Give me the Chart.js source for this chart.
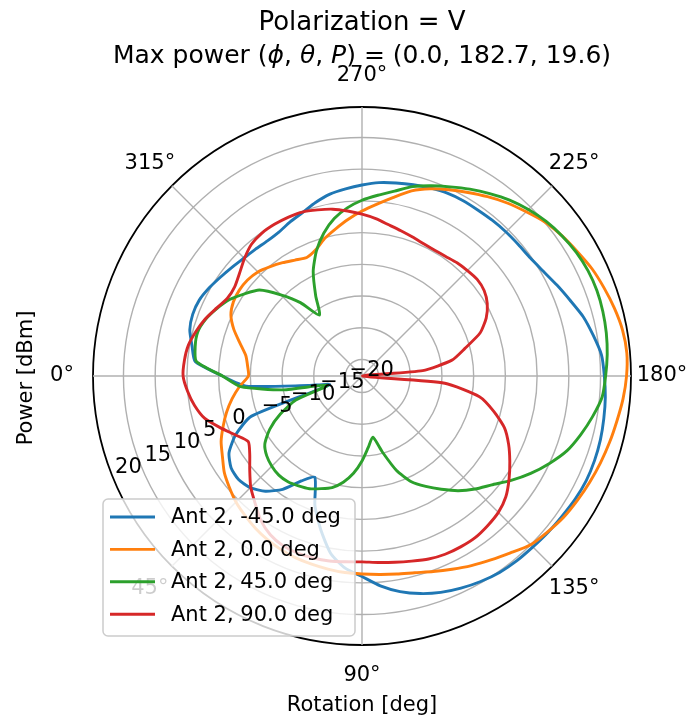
<!DOCTYPE html>
<html>
<head>
<meta charset="utf-8">
<script src="https://cdn.jsdelivr.net/npm/chart.js@4.4.0/dist/chart.umd.min.js"></script>
<style>
  html, body { margin: 0; padding: 0; background: #fff; }
</style>
</head>
<body>
<canvas id="polarPlot" width="690" height="724"></canvas>
<script>
// rotation angle of each sample (deg)
var angles = [0,5,10,15,20,25,30,35,40,45,50,55,60,65,70,75,80,85,90,95,100,105,110,115,
  120,125,130,135,140,145,150,155,160,165,170,175,180,185,190,195,200,205,210,215,220,225,230,235,
  240,245,250,255,260,265,270,275,280,285,290,295,300,305,310,315,320,325,330,335,340,345,350,355];

// power in dBm, one value per angle above
var antM45 = [4.4,0.7,-9.0,-12.3,1.0,4.4,6.6,7.6,7.8,7.3,6.1,4.2,1.5,0.0,4.1,7.5,10.8,12.8,14.0,15.6,16.9,17.9,18.7,19.3,
  19.8,20.2,20.4,20.5,20.7,20.9,21.2,21.4,21.4,21.3,21.1,20.9,20.6,20.3,19.4,18.5,17.3,16.3,15.4,14.8,14.6,14.5,14.4,14.3,
  14.3,14.2,13.9,13.6,13.3,13.0,12.5,12.0,11.5,10.7,9.8,9.2,8.6,8.4,8.5,8.7,9.1,9.6,10.2,10.7,10.8,10.5,9.6,8.8];
var ant0 = [0.3,1.8,3.2,4.5,5.7,6.9,7.8,8.9,9.7,10.5,11.1,11.7,12.2,12.6,12.9,13.1,13.3,13.5,13.6,13.8,14.1,14.5,15.2,16.0,
  16.9,17.8,18.8,20.0,20.6,21.2,21.6,22.0,22.4,22.8,23.2,23.7,24.1,24.3,24.1,23.6,23.0,22.4,21.6,20.9,20.1,19.0,18.0,16.9,
  15.8,14.8,13.8,12.6,11.0,9.6,8.4,7.2,6.0,4.9,3.6,3.0,3.5,4.2,4.9,5.6,5.95,6.0,5.8,5.2,3.9,2.3,1.0,0.5];
var ant45 = [4.4,1.6,-5.0,-12.0,-6.5,-3.4,-0.8,1.1,2.0,2.5,2.8,2.75,2.4,2.0,1.3,0.6,-0.6,-2.2,-4.2,-6.3,-7.8,-5.2,-1.8,0.8,
  2.5,4.2,6.0,7.6,9.1,11.1,13.1,15.0,16.8,18.1,19.3,20.4,20.8,21.2,21.5,21.7,21.8,21.7,21.4,20.9,20.3,19.5,18.6,17.5,
  16.4,15.3,14.3,13.3,12.0,11.0,10.1,9.0,7.6,5.7,3.4,0.6,-3.0,-5.9,-2.5,0.5,3.5,5.0,6.5,7.6,8.6,9.2,9.1,8.6];
var ant90 = [10.6,10.0,9.2,8.1,6.2,4.4,3.1,4.0,5.5,7.2,8.6,10.2,11.3,11.9,12.1,12.1,12.0,11.8,11.7,11.9,12.2,12.6,13.1,13.4,
  13.5,13.5,13.2,12.8,12.0,10.7,9.3,7.9,6.3,3.9,1.2,-4.5,-17.5,-8.0,-3.2,-0.8,2.2,4.0,5.2,5.9,6.1,5.9,5.7,5.4,
  5.3,5.4,5.7,6.1,6.6,7.3,7.9,8.5,9.1,9.5,9.9,10.0,10.0,9.9,9.5,8.6,7.6,6.9,6.9,7.7,8.7,9.5,10.2,10.5];

var seriesNames = ['Ant 2, -45.0 deg', 'Ant 2, 0.0 deg', 'Ant 2, 45.0 deg', 'Ant 2, 90.0 deg'];
var seriesColors = ['#1f77b4', '#ff7f0e', '#2ca02c', '#d62728'];
var thetaTicks = [0, 45, 90, 135, 180, 225, 270, 315];
var radialTicks = [-20, -15, -10, -5, 0, 5, 10, 15, 20];
var rMin = -17.6;
var rMax = 24.8;

var fontName = '"DejaVu Sans", sans-serif';

// chart.js goes clockwise from startAngle, the plot goes the other way round
var order = angles.map(function(a, i) { return (angles.length - i) % angles.length; });
function reorder(arr) { return order.map(function(k) { return arr[k]; }); }

var allSeries = [antM45, ant0, ant45, ant90];
var datasets = allSeries.map(function(s, i) {
  return {
    label: seriesNames[i],
    data: reorder(s),
    borderColor: seriesColors[i],
    backgroundColor: seriesColors[i],
    borderWidth: 2.9,
    pointRadius: 0,
    pointHitRadius: 0,
    fill: false,
    tension: 0.2,
    order: 4 - i
  };
});

function drawSegments(ctx, segs, cx, y, size) {
  var total = 0;
  segs.forEach(function(s) {
    ctx.font = (s.it ? 'italic ' : '') + size + 'px ' + fontName;
    s.w = ctx.measureText(s.t).width;
    total += s.w;
  });
  var x = cx - total / 2;
  ctx.textAlign = 'left';
  segs.forEach(function(s) {
    ctx.font = (s.it ? 'italic ' : '') + size + 'px ' + fontName;
    ctx.fillText(s.t, x, y);
    x += s.w;
  });
}

var polarText = {
  id: 'polarText',
  afterDraw: function(chart) {
    var ctx = chart.ctx;
    var sc = chart.scales.r;
    ctx.save();
    ctx.fillStyle = '#000';
    ctx.textBaseline = 'middle';

    // angle labels
    ctx.font = '21px ' + fontName;
    ctx.textAlign = 'center';
    chart.data.labels.forEach(function(lab, i) {
      if (thetaTicks.indexOf(lab) < 0) return;
      var p = sc.getPointPosition(i, sc.drawingArea + 31);
      ctx.fillText(lab + '\u00b0', p.x, p.y);
    });

    // radial labels at 22.5 deg, left aligned like matplotlib
    var a = 22.5 * Math.PI / 180;
    ctx.textAlign = 'left';
    radialTicks.forEach(function(v) {
      var d = sc.getDistanceFromCenterForValue(v);
      var txt = v < 0 ? '\u2212' + Math.abs(v) : String(v);
      ctx.fillText(txt, sc.xCenter - d * Math.cos(a) - 26.5, sc.yCenter + d * Math.sin(a));
    });

    // axis titles
    ctx.textAlign = 'center';
    ctx.fillText('Rotation [deg]', 362, 706);
    ctx.save();
    ctx.translate(27, 378);
    ctx.rotate(-Math.PI / 2);
    ctx.fillText('Power [dBm]', 0, 0);
    ctx.restore();

    // title
    ctx.font = '26px ' + fontName;
    ctx.fillText('Polarization = V', 362, 23);
    drawSegments(ctx, [
      {t: 'Max power ('}, {t: '\u03d5', it: true}, {t: ', '}, {t: '\u03b8', it: true},
      {t: ', '}, {t: 'P', it: true}, {t: ') = (0.0, 182.7, 19.6)'}
    ], 362, 56, 25);

    // legend
    var lx = 103, ly = 499, lw = 252, lh = 137;
    ctx.beginPath();
    ctx.roundRect(lx, ly, lw, lh, 5);
    ctx.fillStyle = 'rgba(255,255,255,0.8)';
    ctx.fill();
    ctx.strokeStyle = '#cccccc';
    ctx.lineWidth = 1.5;
    ctx.stroke();
    ctx.font = '21px ' + fontName;
    ctx.textAlign = 'left';
    chart.data.datasets.forEach(function(ds, i) {
      var y = 517 + i * 32.4;
      ctx.beginPath();
      ctx.moveTo(110, y);
      ctx.lineTo(155, y);
      ctx.strokeStyle = ds.borderColor;
      ctx.lineWidth = 2.9;
      ctx.stroke();
      ctx.fillStyle = '#000';
      ctx.fillText(ds.label, 171, y + 1);
    });
    ctx.restore();
  }
};

var ctx = document.getElementById('polarPlot').getContext('2d');
var myChart = new Chart(ctx, {
  type: 'radar',
  data: {
    labels: reorder(angles),
    datasets: datasets
  },
  options: {
    responsive: false,
    devicePixelRatio: 1,
    animation: false,
    layout: { padding: { left: 93, right: 59, top: 107, bottom: 79 } },
    plugins: {
      legend: { display: false },
      title: { display: false },
      tooltip: { enabled: false }
    },
    scales: {
      r: {
        min: rMin,
        max: rMax,
        startAngle: 270,
        ticks: { display: false, stepSize: 5 },
        pointLabels: { display: false },
        grid: {
          circular: true,
          color: function(c) {
            if (c.tick.value === rMax) return '#000';
            if (c.tick.value === rMin) return 'rgba(0,0,0,0)';
            return '#b0b0b0';
          },
          lineWidth: function(c) { return c.tick.value === rMax ? 1.8 : 1.4; }
        },
        angleLines: {
          color: function(c) {
            return thetaTicks.indexOf(c.label) >= 0 ? '#b0b0b0' : 'rgba(0,0,0,0)';
          },
          lineWidth: 1.4
        }
      }
    }
  },
  plugins: [polarText]
});
</script>
</body>
</html>
